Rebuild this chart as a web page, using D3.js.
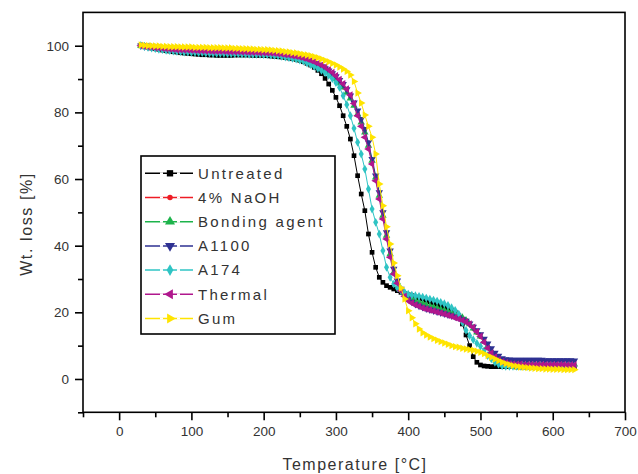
<!DOCTYPE html>
<html>
<head>
<meta charset="utf-8">
<script src="https://cdn.jsdelivr.net/npm/d3@7"></script>
<style>
  html, body { margin: 0; padding: 0; background: #fff; }
  svg { display: block; font-family: "Liberation Sans", Arial, sans-serif; }
</style>
</head>
<body>
<svg id="chart" width="638" height="474"></svg>
<script>
// ---- data ----
const temperatures = [
  30,35,40,45,50,55,60,65,70,75,
  80,85,90,95,100,105,110,115,120,125,
  130,135,140,145,150,155,160,165,170,175,
  180,185,190,195,200,205,210,215,220,225,
  230,235,240,245,250,255,260,265,270,275,
  280,285,290,295,300,305,310,315,320,325,
  330,335,340,345,350,355,360,365,370,375,
  380,385,390,395,400,405,410,415,420,425,
  430,435,440,445,450,455,460,465,470,475,
  480,485,490,495,500,505,510,515,520,525,
  530,535,540,545,550,555,560,565,570,575,
  580,585,590,595,600,605,610,615,620,625,
  630];

const untreated = [
  100,99.8,99.6,99.3,99.1,98.9,98.7,98.5,98.4,98.2,
  98.1,97.9,97.8,97.7,97.6,97.5,97.4,97.3,97.3,97.2,
  97.2,97.1,97.1,97.1,97.1,97.1,97.2,97.2,97.2,97.2,
  97.2,97.1,97.1,97.1,97.1,97.0,96.9,96.8,96.7,96.6,
  96.5,96.3,96.1,95.9,95.6,95.2,94.7,94.2,93.5,92.6,
  91.6,90.2,88.5,86.6,84.5,82.0,79.0,75.8,72.0,67.0,
  61.0,55.5,50.5,43.5,38.0,33.5,30.5,29.0,28.0,27.5,
  27.0,26.5,26.0,25.6,25.3,25.0,24.6,24.3,24.0,23.6,
  23.2,22.8,22.4,22.0,21.6,21.1,20.6,20.0,19.0,16.5,
  13.2,10.0,6.7,5.0,4.2,3.9,3.8,3.7,3.7,3.7,
  3.7,3.7,3.7,3.7,3.6,3.6,3.6,3.6,3.6,3.6,
  3.6,3.6,3.6,3.6,3.6,3.6,3.6,3.6,3.5,3.5,
  3.5];

const naoh = [
  100,99.8,99.7,99.5,99.4,99.2,99.1,99.0,98.9,98.8,
  98.7,98.6,98.5,98.4,98.4,98.3,98.3,98.2,98.2,98.1,
  98.1,98.0,98.0,98.0,98.0,97.9,97.9,97.9,97.9,97.8,
  97.8,97.7,97.7,97.6,97.6,97.5,97.4,97.3,97.2,97.1,
  96.9,96.8,96.6,96.4,96.1,95.8,95.5,95.1,94.7,94.2,
  93.7,93.0,92.3,91.5,90.5,89.3,88.0,86.4,84.5,82.4,
  80.0,77.4,74.5,70.0,65.0,60.0,55.0,49.2,43.5,38.0,
  32.5,29.5,27.0,25.6,24.5,23.7,23.0,22.5,22.0,21.6,
  21.2,20.9,20.6,20.3,20.0,19.7,19.3,18.9,18.5,17.9,
  17.2,16.2,15.0,13.8,12.5,11.0,9.5,8.1,6.8,5.9,
  5.2,4.8,4.5,4.4,4.3,4.3,4.2,4.2,4.2,4.2,
  4.1,4.1,4.1,4.1,4.1,4.1,4.0,4.0,4.0,4.0,
  4.0];

const bonding = [
  100,99.8,99.7,99.5,99.4,99.2,99.1,99.0,98.9,98.8,
  98.7,98.6,98.5,98.4,98.3,98.3,98.2,98.2,98.1,98.1,
  98.0,98.0,97.9,97.9,97.9,97.9,97.8,97.8,97.8,97.8,
  97.7,97.7,97.6,97.6,97.5,97.4,97.3,97.2,97.1,97.0,
  96.8,96.6,96.4,96.2,95.9,95.6,95.3,94.9,94.5,94.0,
  93.4,92.7,92.0,91.1,90.0,88.8,87.5,85.9,84.2,82.0,
  79.5,77.0,74.0,70.0,65.5,60.5,55.0,49.0,43.0,37.5,
  32.0,29.0,27.0,25.8,25.0,24.2,23.5,23.0,22.6,22.2,
  21.8,21.5,21.2,20.8,20.5,20.2,19.8,19.4,19.0,18.4,
  17.6,16.5,15.2,14.0,12.8,11.3,9.8,8.4,7.0,6.1,
  5.4,5.0,4.8,4.7,4.6,4.6,4.5,4.5,4.5,4.5,
  4.5,4.5,4.5,4.4,4.4,4.4,4.4,4.4,4.4,4.4,
  4.4];

const a1100 = [
  100,99.8,99.7,99.6,99.4,99.3,99.2,99.1,99.0,98.9,
  98.8,98.7,98.6,98.6,98.5,98.5,98.4,98.4,98.3,98.3,
  98.2,98.2,98.1,98.1,98.1,98.1,98.0,98.0,98.0,98.0,
  97.9,97.9,97.8,97.8,97.7,97.6,97.5,97.4,97.3,97.2,
  97.0,96.8,96.7,96.5,96.2,95.9,95.6,95.2,94.8,94.3,
  93.8,93.2,92.5,91.7,90.8,89.7,88.5,86.9,85.0,82.9,
  80.5,78.0,75.0,71.0,66.0,61.0,56.0,50.0,44.0,38.5,
  33.0,29.5,27.0,25.3,24.0,23.1,22.4,21.9,21.5,21.1,
  20.8,20.5,20.2,19.9,19.6,19.3,19.0,18.7,18.4,17.9,
  17.4,16.6,15.6,14.6,13.4,12.0,10.6,9.2,7.8,6.9,
  6.2,5.9,5.8,5.7,5.7,5.7,5.7,5.7,5.7,5.7,
  5.7,5.7,5.6,5.6,5.6,5.6,5.6,5.6,5.6,5.6,
  5.5];

const a174 = [
  100,99.7,99.5,99.3,99.1,98.9,98.8,98.6,98.5,98.4,
  98.3,98.2,98.1,98.1,98.0,98.0,97.9,97.9,97.8,97.8,
  97.7,97.7,97.7,97.7,97.6,97.6,97.6,97.6,97.5,97.5,
  97.4,97.4,97.4,97.4,97.3,97.3,97.2,97.1,97.0,96.8,
  96.6,96.4,96.2,96.0,95.7,95.4,94.8,94.3,93.8,93.2,
  92.6,91.9,91.1,90.1,88.9,87.5,85.0,82.3,79.0,75.2,
  71.0,67.5,63.0,57.0,51.0,47.0,43.5,38.5,33.5,30.5,
  28.5,27.3,26.5,26.0,25.5,25.2,25.0,24.8,24.6,24.3,
  24.0,23.7,23.4,23.0,22.6,22.1,21.4,20.6,19.5,17.0,
  14.6,13.0,11.8,10.7,9.8,8.5,7.0,6.0,5.0,4.4,
  3.9,3.8,3.8,3.8,3.8,3.8,3.8,3.8,3.8,3.8,
  3.8,3.8,3.8,3.8,3.8,3.8,3.8,3.8,3.8,3.8,
  3.8];

const thermal = [
  100,99.8,99.7,99.6,99.4,99.3,99.2,99.1,99.0,98.9,
  98.8,98.8,98.7,98.7,98.6,98.6,98.5,98.5,98.4,98.4,
  98.3,98.3,98.3,98.3,98.2,98.2,98.2,98.2,98.1,98.1,
  98.0,98.0,98.0,97.9,97.9,97.8,97.8,97.7,97.6,97.5,
  97.3,97.2,97.0,96.8,96.6,96.3,96.0,95.6,95.2,94.7,
  94.2,93.6,92.8,92.0,91.0,89.9,88.6,87.0,85.2,82.7,
  79.0,75.8,72.5,69.0,64.5,59.5,54.0,48.0,42.0,36.5,
  31.5,28.7,26.5,24.8,23.5,22.8,22.3,21.8,21.3,21.0,
  20.7,20.4,20.1,19.8,19.5,19.1,18.8,18.4,18.0,17.6,
  17.2,16.5,15.5,14.2,12.8,11.0,9.2,7.8,6.6,5.8,
  5.2,4.9,4.6,4.5,4.4,4.4,4.3,4.3,4.3,4.3,
  4.3,4.3,4.3,4.3,4.3,4.3,4.3,4.3,4.2,4.2,
  4.2];

const gum = [
  100.2,100.1,100.0,100.0,99.9,99.9,99.8,99.8,99.7,99.7,
  99.7,99.6,99.6,99.6,99.6,99.5,99.5,99.5,99.5,99.4,
  99.4,99.4,99.4,99.3,99.3,99.3,99.2,99.2,99.1,99.1,
  99.0,99.0,98.9,98.9,98.8,98.8,98.7,98.6,98.5,98.4,
  98.2,98.1,97.9,97.8,97.6,97.4,97.2,97.0,96.7,96.4,
  96.0,95.6,95.2,94.7,94.2,93.6,93.0,92.3,91.2,89.3,
  85.8,82.8,79.2,75.8,72.5,67.5,58.5,52.0,45.7,40.5,
  34.8,31.0,27.3,24.0,20.5,18.4,16.6,15.0,13.9,13.2,
  12.6,12.1,11.6,11.2,10.8,10.4,10.0,9.7,9.5,9.2,
  9.0,8.8,8.6,8.3,8.0,7.6,7.0,6.5,6.0,5.5,
  5.0,4.6,4.3,4.0,3.8,3.6,3.5,3.4,3.3,3.2,
  3.1,3.1,3.0,3.0,2.9,2.9,2.9,2.8,2.8,2.8,
  2.8];

const seriesNames = ["Untreated","4% NaOH","Bonding agent","A1100","A174","Thermal","Gum"];
const seriesValues = [untreated, naoh, bonding, a1100, a174, thermal, gum];
const seriesColors = ["#000000","#ee1c25","#1db34b","#2e3192","#2fc4c4","#b0178d","#ffe400"];
const seriesSymbols = ["square","circle","up","down","diamond","left","right"];

const xTicks = [0,100,200,300,400,500,600,700];
const xMinorTicks = [-50,50,150,250,350,450,550,650];
const yTicks = [0,20,40,60,80,100];
const yMinorTicks = [-10,10,30,50,70,90];

// ---- layout ----
const svg = d3.select("#chart");
const L = 83, R = 625, T = 12.4, B = 412.3;
const x = d3.scaleLinear().domain([-50, 700]).range([L, R]);
const y = d3.scaleLinear().domain([-10, 110]).range([B, T]);

function symbolPath(kind) {
  if (kind === "square") return d3.symbol(d3.symbolSquare, 22)();
  if (kind === "circle") return d3.symbol(d3.symbolCircle, 13)();
  if (kind === "diamond") return d3.symbol(d3.symbolDiamond, 22)();
  return d3.symbol(d3.symbolTriangle, 24)();
}
function symbolRotation(kind) {
  return {up:0, down:180, left:-90, right:90}[kind] || 0;
}

// ---- series ----
const line = d3.line().x((d,i)=>x(temperatures[i])).y(d=>y(d));
seriesValues.forEach((vals, si) => {
  const g = svg.append("g");
  g.append("path")
    .attr("d", line(vals))
    .attr("fill", "none")
    .attr("stroke", seriesColors[si])
    .attr("stroke-width", 1);
  g.selectAll("path.m").data(vals).enter().append("path")
    .attr("class","m")
    .attr("d", symbolPath(seriesSymbols[si]))
    .attr("transform", (d,i) => `translate(${x(temperatures[i])},${y(d)}) rotate(${symbolRotation(seriesSymbols[si])})`)
    .attr("fill", seriesColors[si]);
});

// ---- axes ----
const xAxis = d3.axisBottom(x).tickValues(xTicks).tickSize(8).tickPadding(6).tickSizeOuter(0);
const xMinor = d3.axisBottom(x).tickValues(xMinorTicks).tickSize(5).tickFormat("").tickSizeOuter(0);
const yAxis = d3.axisLeft(y).tickValues(yTicks).tickSize(8).tickPadding(6).tickSizeOuter(0);
const yMinor = d3.axisLeft(y).tickValues(yMinorTicks).tickSize(5).tickFormat("").tickSizeOuter(0);

function styleAxis(g) {
  g.selectAll(".domain").remove();
  g.selectAll("line").attr("stroke","#000").attr("stroke-width",1.6);
  g.selectAll("text").attr("fill","#333").style("font-size","13.5px")
    .style("font-family",'"Liberation Sans", Arial, sans-serif');
}
svg.append("g").attr("transform",`translate(0,${B})`).call(xAxis).call(styleAxis);
svg.append("g").attr("transform",`translate(0,${B})`).call(xMinor).call(styleAxis);
svg.append("g").attr("transform",`translate(${L},0)`).call(yAxis).call(styleAxis);
svg.append("g").attr("transform",`translate(${L},0)`).call(yMinor).call(styleAxis);

// frame
svg.append("rect").attr("x",L).attr("y",T).attr("width",R-L).attr("height",B-T)
  .attr("fill","none").attr("stroke","#000").attr("stroke-width",1.6);

// ---- axis titles ----
svg.append("text")
  .attr("x", 355).attr("y", 470)
  .attr("text-anchor","middle")
  .attr("fill","#333")
  .style("font-size","16px").style("letter-spacing","1.5px")
  .text("Temperature [°C]");
svg.append("text")
  .attr("transform","translate(32,224) rotate(-90)")
  .attr("text-anchor","middle")
  .attr("fill","#333")
  .style("font-size","16px").style("letter-spacing","1.6px")
  .text("Wt. loss [%]");

// ---- legend ----
const lg = svg.append("g");
lg.append("rect").attr("x",141).attr("y",156).attr("width",194).attr("height",178)
  .attr("fill","#fff").attr("stroke","#000").attr("stroke-width",1.6);
seriesNames.forEach((name, si) => {
  const cy = 173.3 + si*24.2;
  lg.append("line").attr("x1",145).attr("x2",193).attr("y1",cy).attr("y2",cy)
    .attr("stroke",seriesColors[si]).attr("stroke-width",1.5);
  lg.append("rect").attr("x",160).attr("y",cy-1).attr("width",3).attr("height",2).attr("fill","#fff");
  lg.append("rect").attr("x",177).attr("y",cy-1).attr("width",3).attr("height",2).attr("fill","#fff");
  lg.append("path").attr("d", symbolPath(seriesSymbols[si]))
    .attr("transform",`translate(170,${cy}) rotate(${symbolRotation(seriesSymbols[si])}) scale(1.35)`)
    .attr("fill",seriesColors[si]);
  lg.append("text").attr("x",198).attr("y",cy+5.3)
    .attr("fill","#333")
    .style("font-size","15px").style("letter-spacing","2.3px")
    .text(name);
});
</script>
</body>
</html>
